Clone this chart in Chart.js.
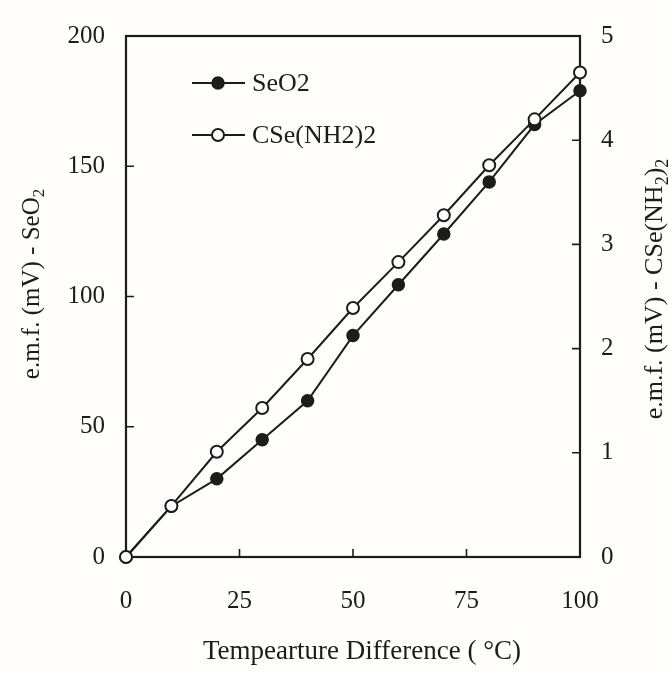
<!DOCTYPE html>
<html>
<head>
<meta charset="utf-8">
<title>e.m.f. vs temperature difference</title>
<script src="https://cdn.jsdelivr.net/npm/chart.js@4.4.1/dist/chart.umd.min.js"></script>
<style>
  body { margin: 0; background: #fffefa; }
  #chart { display: block; }
</style>
</head>
<body>
<canvas id="chart" width="669" height="675"></canvas>
<script>
// values
var tempDiff = [0, 10, 20, 30, 40, 50, 60, 70, 80, 90, 100];
var emfSeO2 = [0, 19.5, 30, 45, 60, 85, 104.5, 124, 144, 166, 179];
var emfCSe = [0, 0.49, 1.01, 1.43, 1.9, 2.39, 2.83, 3.28, 3.76, 4.2, 4.65];
var xTicks = [0, 25, 50, 75, 100];
var leftTicks = [0, 50, 100, 150, 200];
var rightTicks = [0, 1, 2, 3, 4, 5];
var seriesNames = ["SeO2", "CSe(NH2)2"];

var ink = "#1e1c1a";
var paper = "#fffefa";
var serif = "'Liberation Serif', 'Times New Roman', serif";

function pairs(xs, ys) {
  return xs.map(function (x, i) { return { x: x, y: ys[i] }; });
}

function fixTicks(list) {
  return function (scale) {
    scale.ticks = list.map(function (v) { return { value: v }; });
  };
}

// text with subscripts, centred on (x, y), optionally rotated to read upwards
function drawRich(c, parts, x, y, rotate, size) {
  var big = size + "px " + serif, small = Math.round(size * 0.68) + "px " + serif;
  c.save();
  c.translate(x, y);
  if (rotate) c.rotate(-Math.PI / 2);
  var total = 0;
  parts.forEach(function (p) {
    c.font = p[1] ? small : big;
    total += c.measureText(p[0]).width;
  });
  var cx = -total / 2;
  c.fillStyle = ink;
  c.textBaseline = "alphabetic";
  parts.forEach(function (p) {
    c.font = p[1] ? small : big;
    c.fillText(p[0], cx, p[1] ? size * 0.56 : size * 0.36);
    cx += c.measureText(p[0]).width;
  });
  c.restore();
}

var decor = {
  id: "decor",
  beforeDraw: function (chart) {
    var c = chart.ctx;
    c.save();
    c.fillStyle = paper;
    c.fillRect(0, 0, chart.width, chart.height);
    c.restore();
  },
  beforeDatasetsDraw: function (chart) {
    var c = chart.ctx, a = chart.chartArea;
    var sx = chart.scales.x, sl = chart.scales.yL, sr = chart.scales.yR;
    c.save();
    c.strokeStyle = ink;
    c.lineWidth = 2.2;
    c.strokeRect(a.left, a.top, a.right - a.left, a.bottom - a.top);
    c.lineWidth = 1.6;
    c.beginPath();
    // inward tick marks
    xTicks.slice(1, -1).forEach(function (v) {
      var px = sx.getPixelForValue(v);
      c.moveTo(px, a.bottom); c.lineTo(px, a.bottom - 8);
    });
    leftTicks.slice(1, -1).forEach(function (v) {
      var py = sl.getPixelForValue(v);
      c.moveTo(a.left, py); c.lineTo(a.left + 8, py);
    });
    rightTicks.slice(1, -1).forEach(function (v) {
      var py = sr.getPixelForValue(v);
      c.moveTo(a.right, py); c.lineTo(a.right - 8, py);
    });
    c.stroke();
    c.restore();
  },
  afterDraw: function (chart) {
    var c = chart.ctx;
    // axis titles
    drawRich(c, [["e.m.f. (mV) - SeO", 0], ["2", 1]], 30, 284, true, 25);
    drawRich(c, [["e.m.f. (mV) - CSe(NH", 0], ["2", 1], [")", 0], ["2", 1]], 653, 289, true, 26);
    drawRich(c, [["Tempearture Difference ( \u00B0C)", 0]], 362, 649, false, 27);

    // legend
    var rows = [83, 135];
    chart.data.datasets.forEach(function (ds, i) {
      var y = rows[i];
      c.save();
      c.strokeStyle = ink;
      c.lineWidth = 2;
      c.beginPath();
      c.moveTo(192, y); c.lineTo(245, y);
      c.stroke();
      c.beginPath();
      c.arc(218, y, ds.pointRadius, 0, Math.PI * 2);
      c.fillStyle = ds.pointBackgroundColor;
      c.fill();
      c.lineWidth = ds.pointBorderWidth;
      c.stroke();
      c.fillStyle = ink;
      c.font = "26px " + serif;
      c.textBaseline = "middle";
      c.fillText(ds.label, 252, y + 1);
      c.restore();
    });
  }
};

var tickFont = { family: serif, size: 25 };

new Chart(document.getElementById("chart"), {
  type: "line",
  data: {
    datasets: [
      {
        label: seriesNames[0],
        data: pairs(tempDiff, emfSeO2),
        yAxisID: "yL",
        borderColor: ink,
        borderWidth: 2,
        pointRadius: 6,
        pointBackgroundColor: ink,
        pointBorderColor: ink,
        pointBorderWidth: 1.5,
        tension: 0,
        clip: false,
        order: 1
      },
      {
        label: seriesNames[1],
        data: pairs(tempDiff, emfCSe),
        yAxisID: "yR",
        borderColor: ink,
        borderWidth: 2,
        pointRadius: 6,
        pointBackgroundColor: "#ffffff",
        pointBorderColor: ink,
        pointBorderWidth: 2,
        tension: 0,
        clip: false,
        order: 0
      }
    ]
  },
  options: {
    responsive: false,
    animation: false,
    layout: { padding: { top: 27, left: 0, right: 0, bottom: 0 } },
    plugins: {
      legend: { display: false },
      tooltip: { enabled: false }
    },
    scales: {
      x: {
        type: "linear",
        position: "bottom",
        min: 0,
        max: 100,
        afterBuildTicks: fixTicks(xTicks),
        afterFit: function (s) { s.height = 118; },
        grid: { display: false, drawTicks: false },
        border: { display: false },
        ticks: { color: ink, font: tickFont, padding: 29, maxRotation: 0 }
      },
      yL: {
        type: "linear",
        position: "left",
        min: 0,
        max: 200,
        afterBuildTicks: fixTicks(leftTicks),
        afterFit: function (s) { s.width = 126; },
        grid: { display: false, drawTicks: false },
        border: { display: false },
        ticks: { color: ink, font: tickFont, padding: 21 }
      },
      yR: {
        type: "linear",
        position: "right",
        min: 0,
        max: 5,
        afterBuildTicks: fixTicks(rightTicks),
        afterFit: function (s) { s.width = 89; },
        grid: { display: false, drawTicks: false },
        border: { display: false },
        ticks: { color: ink, font: tickFont, padding: 21 }
      }
    }
  },
  plugins: [decor]
});
</script>
</body>
</html>
